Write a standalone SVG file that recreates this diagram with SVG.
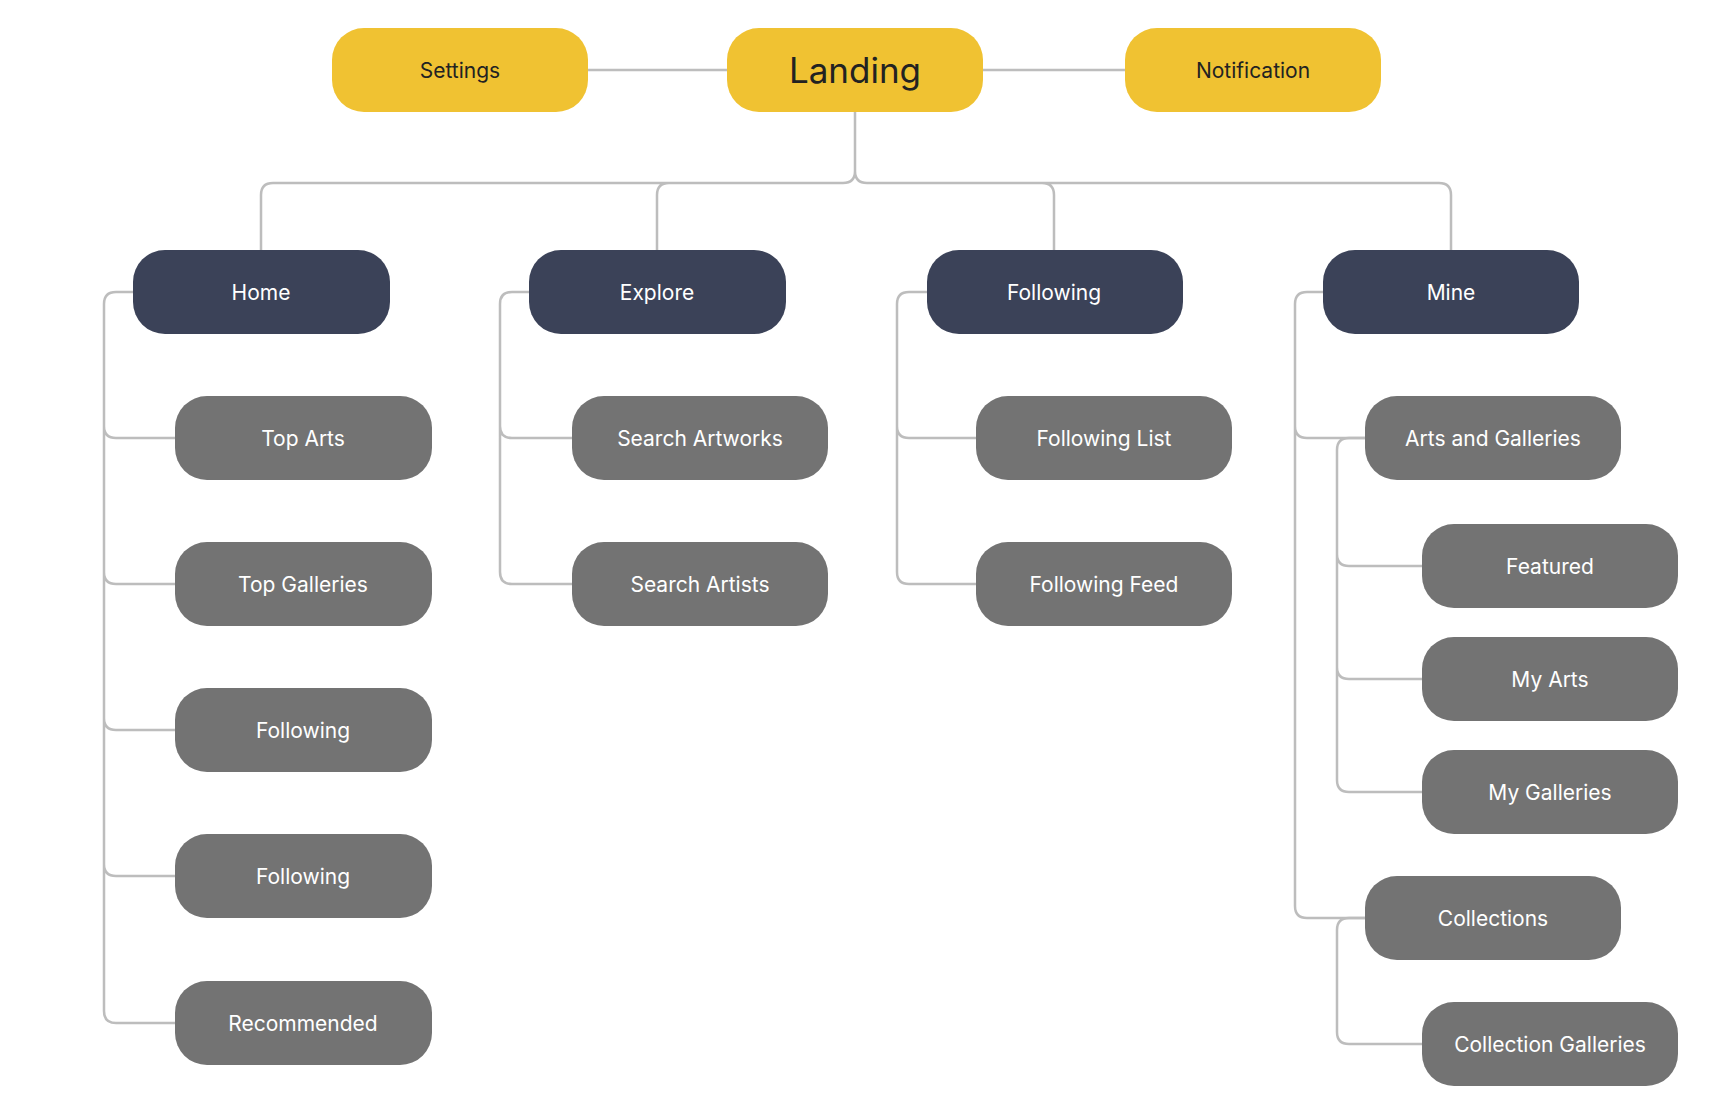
<svg xmlns="http://www.w3.org/2000/svg" width="1711" height="1116" viewBox="0 0 1711 1116">
<style>
.y{fill:#F0C232}.d{fill:#3B4258}.g{fill:#737373}
text{font-family:Inter,"Noto Sans","Liberation Sans",sans-serif;font-size:21px;text-anchor:middle;dominant-baseline:central;fill:#fff}
.yt{fill:#222}
#c path{fill:none;stroke:#BDBDBD;stroke-width:2.5}
</style>
<rect width="1711" height="1116" fill="#fff"/>
<g id="c">
<path d="M588,70H727M983,70H1125"/>
<path d="M855,112V171Q855,183 843,183H273Q261,183 261,195V250M855,171Q855,183 867,183H1439Q1451,183 1451,195V250M657,250V195Q657,183 669,183M1054,250V195Q1054,183 1042,183"/>
<path d="M133,292H116Q104,292 104,304V1011Q104,1023 116,1023H175M104,426Q104,438 116,438H175M104,572Q104,584 116,584H175M104,718Q104,730 116,730H175M104,864Q104,876 116,876H175"/>
<path d="M529,292H512Q500,292 500,304V572Q500,584 512,584H572M500,426Q500,438 512,438H572"/>
<path d="M927,292H909Q897,292 897,304V572Q897,584 909,584H976M897,426Q897,438 909,438H976"/>
<path d="M1323,292H1307Q1295,292 1295,304V906Q1295,918 1307,918H1365M1295,426Q1295,438 1307,438H1365"/>
<path d="M1365,438H1349Q1337,438 1337,450V780Q1337,792 1349,792H1422M1337,554Q1337,566 1349,566H1422M1337,667Q1337,679 1349,679H1422"/>
<path d="M1365,918H1349Q1337,918 1337,930V1032Q1337,1044 1349,1044H1422"/>
</g>
<g id="settings"><rect class="y" x="332" y="28" width="256" height="84" rx="32"/><text class="yt" x="460" y="70">Settings</text></g>
<g id="landing"><rect class="y" x="727" y="28" width="256" height="84" rx="32"/><text class="yt" x="855" y="70" style="font-size:35px">Landing</text></g>
<g id="notification"><rect class="y" x="1125" y="28" width="256" height="84" rx="32"/><text class="yt" x="1253" y="70">Notification</text></g>
<g id="home"><rect class="d" x="133" y="250" width="257" height="84" rx="32"/><text x="261" y="292">Home</text></g>
<g id="explore"><rect class="d" x="529" y="250" width="257" height="84" rx="32"/><text x="657" y="292">Explore</text></g>
<g id="following"><rect class="d" x="927" y="250" width="256" height="84" rx="32"/><text x="1054" y="292">Following</text></g>
<g id="mine"><rect class="d" x="1323" y="250" width="256" height="84" rx="32"/><text x="1451" y="292">Mine</text></g>
<g id="topArts"><rect class="g" x="175" y="396" width="257" height="84" rx="32"/><text x="303" y="438">Top Arts</text></g>
<g id="topGalleries"><rect class="g" x="175" y="542" width="257" height="84" rx="32"/><text x="303" y="584">Top Galleries</text></g>
<g id="following1"><rect class="g" x="175" y="688" width="257" height="84" rx="32"/><text x="303" y="730">Following</text></g>
<g id="following2"><rect class="g" x="175" y="834" width="257" height="84" rx="32"/><text x="303" y="876">Following</text></g>
<g id="recommended"><rect class="g" x="175" y="981" width="257" height="84" rx="32"/><text x="303" y="1023">Recommended</text></g>
<g id="searchArtworks"><rect class="g" x="572" y="396" width="256" height="84" rx="32"/><text x="700" y="438">Search Artworks</text></g>
<g id="searchArtists"><rect class="g" x="572" y="542" width="256" height="84" rx="32"/><text x="700" y="584">Search Artists</text></g>
<g id="followingList"><rect class="g" x="976" y="396" width="256" height="84" rx="32"/><text x="1104" y="438">Following List</text></g>
<g id="followingFeed"><rect class="g" x="976" y="542" width="256" height="84" rx="32"/><text x="1104" y="584">Following Feed</text></g>
<g id="artsGalleries"><rect class="g" x="1365" y="396" width="256" height="84" rx="32"/><text x="1493" y="438">Arts and Galleries</text></g>
<g id="featured"><rect class="g" x="1422" y="524" width="256" height="84" rx="32"/><text x="1550" y="566">Featured</text></g>
<g id="myArts"><rect class="g" x="1422" y="637" width="256" height="84" rx="32"/><text x="1550" y="679">My Arts</text></g>
<g id="myGalleries"><rect class="g" x="1422" y="750" width="256" height="84" rx="32"/><text x="1550" y="792">My Galleries</text></g>
<g id="collections"><rect class="g" x="1365" y="876" width="256" height="84" rx="32"/><text x="1493" y="918">Collections</text></g>
<g id="collectionGalleries"><rect class="g" x="1422" y="1002" width="256" height="84" rx="32"/><text x="1550" y="1044">Collection Galleries</text></g>
</svg>
